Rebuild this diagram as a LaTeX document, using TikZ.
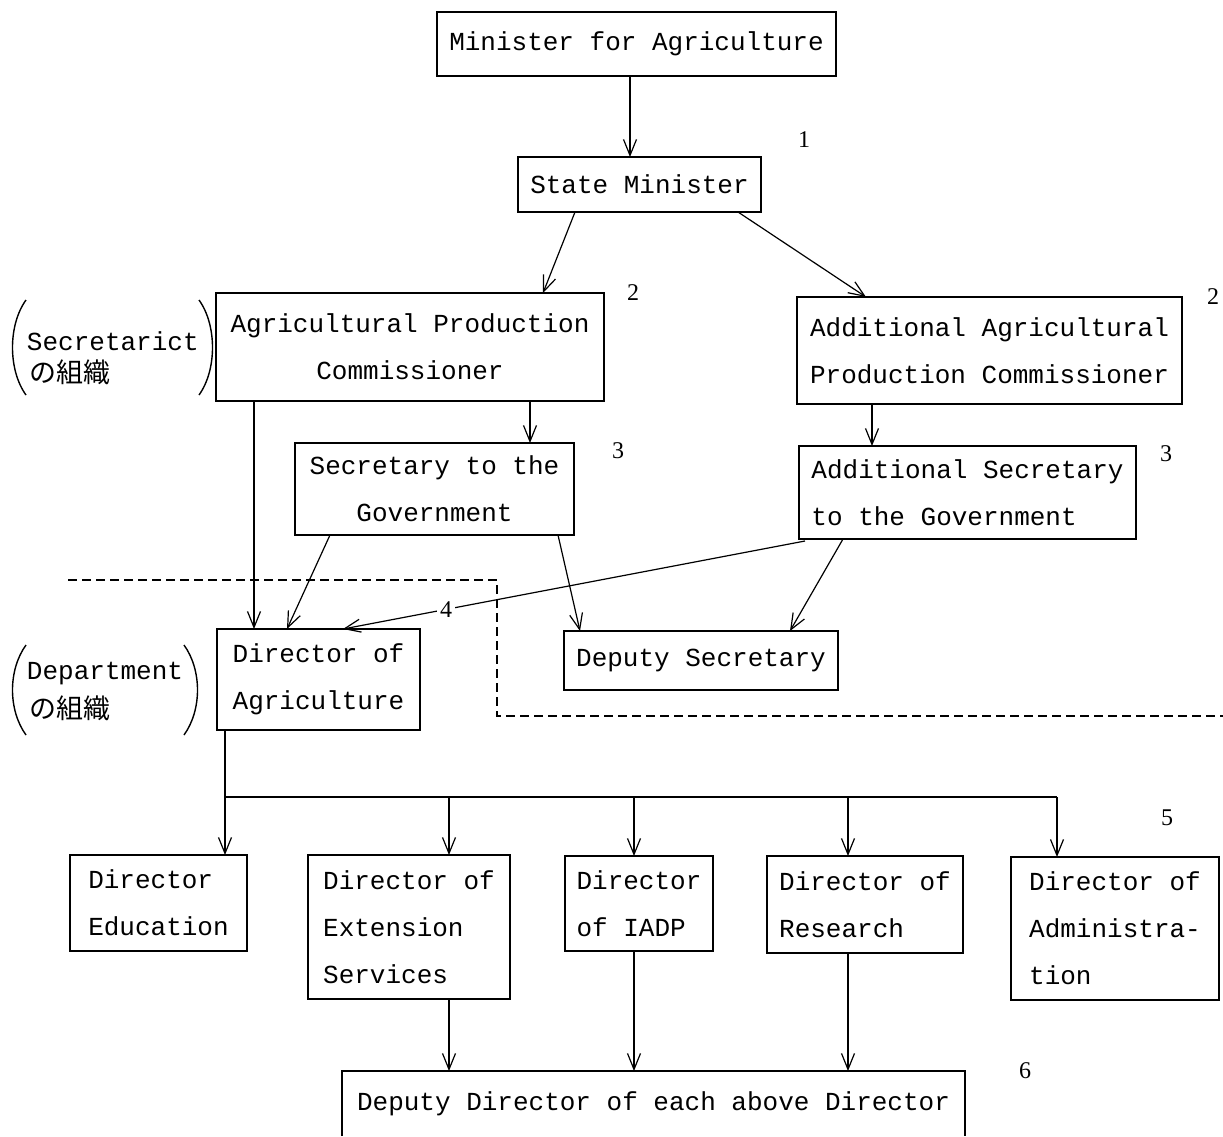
\documentclass[tikz,border=0pt]{standalone}
\usepackage{fontspec}
\usetikzlibrary{arrows.meta,calc}
\newfontfamily\boxfont{Liberation Mono}
\newfontfamily\numfont{Liberation Serif}
\newfontfamily\jpfont{Noto Sans CJK JP}
\begin{document}
\begin{tikzpicture}[x=1pt,y=-1pt,
  every node/.style={inner sep=0pt, outer sep=0pt},
  box/.style={draw, line width=1.2pt, align=left, font=\boxfont\fontsize{26}{47}\selectfont},
  cbox/.style={box, align=center},
  numlab/.style={font=\numfont\fontsize{24}{28}\selectfont},
  sidelab/.style={anchor=west, font=\boxfont\fontsize{26}{30}\selectfont},
  jplab/.style={anchor=west, font=\jpfont\fontsize{27}{30}\selectfont},
  conn/.style={line width=1.2pt},
  arr/.style={conn, -{Straight Barb[length=16pt,width=13pt,line width=1.2pt]}},
  dashline/.style={line width=1.2pt, dash pattern=on 9pt off 5pt},
  paren/.style={line width=1.4pt}]
\useasboundingbox (0,0) rectangle (1223,1136);

% boxes
\node[cbox, minimum width=399pt, minimum height=64pt] (minister) at (636.5,44) {Minister for Agriculture};
\node[cbox, minimum width=243pt, minimum height=55pt] (state) at (639.5,184.5) {State Minister};
\node[cbox, minimum width=388pt, minimum height=108pt] (apc) at (410,347) {Agricultural Production\\Commissioner};
\node[box, minimum width=385pt, minimum height=107pt] (aapc) at (989.5,350.5) {Additional Agricultural\\Production Commissioner};
\node[cbox, minimum width=279pt, minimum height=92pt] (sec) at (434.5,489) {Secretary to the\\Government};
\node[box, minimum width=337pt, minimum height=93pt] (addsec) at (967.5,492.5) {Additional Secretary\\to the Government};
\node[box, minimum width=203pt, minimum height=101pt] (dirag) at (318.5,679.5) {Director of\\Agriculture};
\node[box, minimum width=274pt, minimum height=59pt] (depsec) at (701,660.5) {Deputy Secretary};
\node[box, minimum width=177pt, minimum height=96pt] (dired) at (158.5,903) {Director\\Education};
\node[box, minimum width=202pt, minimum height=144pt] (dirext) at (409,927) {Director of\\Extension\\Services};
\node[box, minimum width=148pt, minimum height=95pt] (diriadp) at (639,903.5) {Director\\of IADP};
\node[box, minimum width=196pt, minimum height=97pt] (dirres) at (865,904.5) {Director of\\Research};
\node[box, minimum width=208pt, minimum height=143pt] (diradm) at (1115,928.5) {Director of\\Administra-\\tion};
\node[cbox, draw=none, minimum width=623pt, minimum height=65pt] (depdir) at (653.5,1103.5) {Deputy Director of each above Director};
\draw[conn] (depdir.south west) -- (depdir.north west) -- (depdir.north east) -- (depdir.south east);

% numbers
\node[numlab] (n1) at (804,140) {1};
\node[numlab] (n2a) at (633,293) {2};
\node[numlab] (n2b) at (1213,297) {2};
\node[numlab] (n3a) at (618,451) {3};
\node[numlab] (n3b) at (1166,454) {3};
\node[numlab] (n5) at (1167,818) {5};
\node[numlab] (n6) at (1025,1071) {6};

% side labels
\node[sidelab] (secl) at (27,341) {Secretarict};
\node[jplab] (secj) at (29,372) {の組織};
\node[sidelab] (depl) at (27,674) {Department};
\node[jplab] (depj) at (29,708) {の組織};
\draw[paren] (26,300) .. controls (8,325) and (8,370) .. (26,395);
\draw[paren] (199,300) .. controls (217,325) and (217,370) .. (199,395);
\draw[paren] (26,645) .. controls (8,670) and (8,710) .. (26,735);
\draw[paren] (184,645) .. controls (202,670) and (202,710) .. (184,735);

% dashed boundary
\draw[dashline] (68,580) -- (497,580) -- (497,716) -- (1223,716);

% connectors
\coordinate (m1) at ([xshift=-6.5pt]minister.south);
\draw[arr] (m1) -- (m1 |- state.north);
\draw[arr] ([xshift=57pt]state.south west) -- ([xshift=327pt]apc.north west);
\draw[arr] ([xshift=220pt]state.south west) -- ([xshift=69pt]aapc.north west);
\coordinate (a1) at ([xshift=314pt]apc.south west);
\draw[arr] (a1) -- (a1 |- sec.north);
\coordinate (a2) at ([xshift=75pt]aapc.south west);
\draw[arr] (a2) -- (a2 |- addsec.north);
\coordinate (a3) at ([xshift=38pt]apc.south west);
\draw[arr] (a3) -- (a3 |- dirag.north);
\draw[arr] ([xshift=35pt]sec.south west) -- ([xshift=70pt]dirag.north west);
\draw[arr] ([xshift=263pt]sec.south west) -- ([xshift=16pt]depsec.north west);
\draw[arr] ([xshift=6pt,yshift=-2pt]addsec.south west) -- node[pos=0.777, fill=white, inner sep=3pt, numlab] (n4) {4} ([xshift=126pt]dirag.north west);
\draw[arr] ([xshift=44pt]addsec.south west) -- ([xshift=226pt]depsec.north west);

% bus
\coordinate (d0) at ([xshift=8pt]dirag.south west);
\coordinate (b1) at (225,797);
\coordinate (b2) at (449,797);
\coordinate (b3) at (634,797);
\coordinate (b4) at (848,797);
\coordinate (b5) at (1057,797);
\draw[conn] (d0) -- (b1) -- (b5);
\draw[arr] (b1) -- (b1 |- dired.north);
\draw[arr] (b2) -- (b2 |- dirext.north);
\draw[arr] (b3) -- (b3 |- diriadp.north);
\draw[arr] (b4) -- (b4 |- dirres.north);
\draw[arr] (b5) -- (b5 |- diradm.north);

% to deputy director
\coordinate (e1) at (b2 |- dirext.south);
\coordinate (e2) at (b3 |- diriadp.south);
\coordinate (e3) at (b4 |- dirres.south);
\draw[arr] (e1) -- (e1 |- depdir.north);
\draw[arr] (e2) -- (e2 |- depdir.north);
\draw[arr] (e3) -- (e3 |- depdir.north);
\end{tikzpicture}
\end{document}
